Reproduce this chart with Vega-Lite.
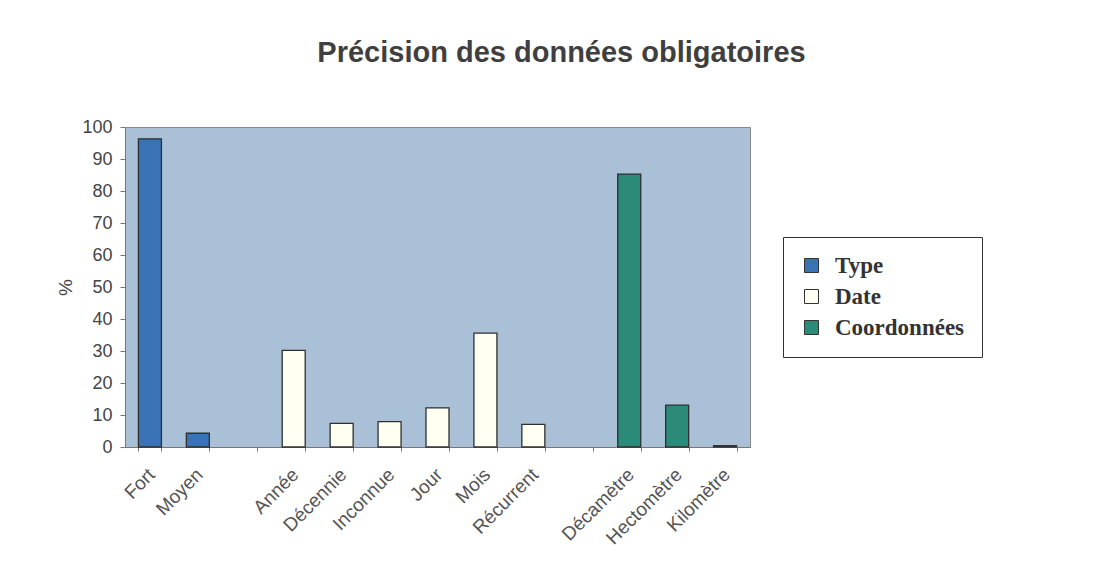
{
  "$schema": "https://vega.github.io/schema/vega-lite/v6.json",
  "autosize": {"type": "none"},
  "width": 625,
  "height": 320,
  "padding": {"left": 125, "top": 127, "right": 351, "bottom": 128},
  "background": "white",
  "title": {
    "text": "Précision des données obligatoires",
    "font": "Liberation Sans",
    "fontSize": 29,
    "fontWeight": "bold",
    "color": "#3f3f3f",
    "anchor": "middle",
    "dx": 124,
    "offset": 50
  },
  "data": {
    "values": [
      {"categorie": "Fort", "groupe": "Type", "pourcentage": 96.3},
      {"categorie": "Moyen", "groupe": "Type", "pourcentage": 4.3},
      {"categorie": "Année", "groupe": "Date", "pourcentage": 30.2},
      {"categorie": "Décennie", "groupe": "Date", "pourcentage": 7.4},
      {"categorie": "Inconnue", "groupe": "Date", "pourcentage": 7.9},
      {"categorie": "Jour", "groupe": "Date", "pourcentage": 12.2},
      {"categorie": "Mois", "groupe": "Date", "pourcentage": 35.6},
      {"categorie": "Récurrent", "groupe": "Date", "pourcentage": 7.1},
      {"categorie": "Décamètre", "groupe": "Coordonnées", "pourcentage": 85.3},
      {"categorie": "Hectomètre", "groupe": "Coordonnées", "pourcentage": 13.1},
      {"categorie": "Kilomètre", "groupe": "Coordonnées", "pourcentage": 0.4}
    ]
  },
  "mark": {"type": "bar", "stroke": "#2f2f2f", "strokeWidth": 1.3},
  "encoding": {
    "x": {
      "field": "categorie",
      "type": "nominal",
      "sort": null,
      "scale": {
        "domain": ["Fort", "Moyen", "_sep1", "Année", "Décennie", "Inconnue", "Jour", "Mois", "Récurrent", "_sep2", "Décamètre", "Hectomètre", "Kilomètre"],
        "paddingInner": 0.52,
        "paddingOuter": 0.28
      },
      "axis": {
        "title": null,
        "labelAngle": -45,
        "labelFont": "Liberation Sans",
        "labelFontSize": 19,
        "labelColor": "#555",
        "labelExpr": "(datum.value == '_sep1' || datum.value == '_sep2') ? '' : datum.value",
        "tickBand": "extent",
        "tickSize": 4,
        "tickColor": "#777",
        "domainColor": "#777",
        "labelPadding": 14,
        "labelOffset": -5
      }
    },
    "y": {
      "field": "pourcentage",
      "type": "quantitative",
      "scale": {"domain": [0, 100]},
      "axis": {
        "title": "%",
        "titleFont": "Liberation Sans",
        "titleFontSize": 19,
        "titleFontWeight": "normal",
        "titleColor": "#444",
        "titlePadding": 6,
        "values": [0, 10, 20, 30, 40, 50, 60, 70, 80, 90, 100],
        "labelFont": "Liberation Sans",
        "labelFontSize": 18,
        "labelColor": "#444",
        "labelPadding": 8,
        "grid": false,
        "tickSize": 5,
        "tickColor": "#777",
        "domainColor": "#777"
      }
    },
    "color": {
      "field": "groupe",
      "type": "nominal",
      "scale": {
        "domain": ["Type", "Date", "Coordonnées"],
        "range": ["#3a72b6", "#fffff2", "#2c8a79"]
      },
      "legend": {
        "title": null,
        "orient": "none",
        "legendX": 658,
        "legendY": 110,
        "direction": "vertical",
        "fillColor": "white",
        "strokeColor": "#333",
        "padding": 17,
        "symbolType": "square",
        "symbolSize": 196,
        "symbolStrokeColor": "#333",
        "symbolStrokeWidth": 1,
        "labelFont": "Liberation Serif",
        "labelFontSize": 23,
        "labelFontWeight": "bold",
        "labelColor": "#333",
        "rowPadding": 7,
        "labelOffset": 12
      }
    }
  },
  "config": {
    "view": {"fill": "#a9c0d7", "stroke": "#888", "strokeWidth": 1}
  }
}
